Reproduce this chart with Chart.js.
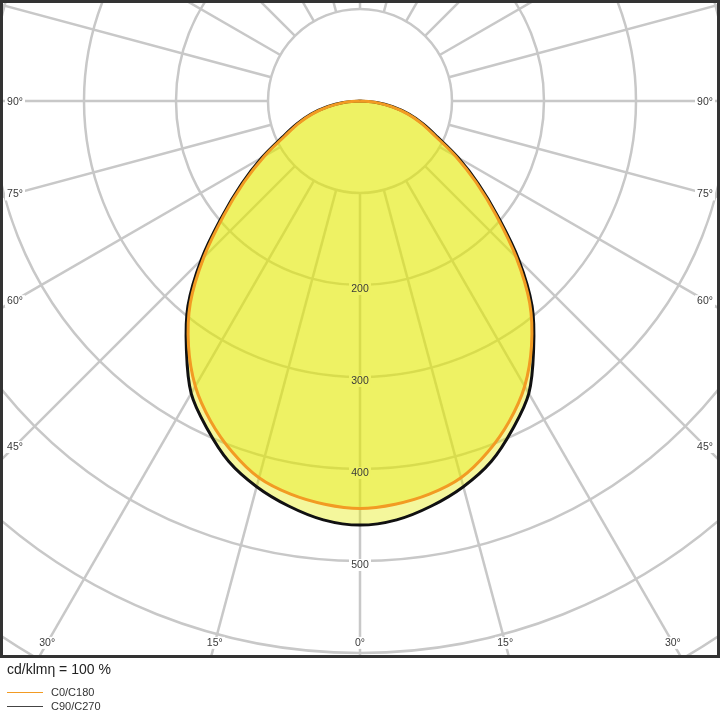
<!DOCTYPE html>
<html>
<head>
<meta charset="utf-8">
<script src="https://cdn.jsdelivr.net/npm/chart.js@4.4.1/dist/chart.umd.min.js"></script>
<style>
html,body{margin:0;padding:0;background:#fff;}
#wrap{position:relative;width:720px;height:720px;font-family:"Liberation Sans",Arial,sans-serif;color:#333;}
#c{position:absolute;left:0;top:0;}
.t{position:absolute;white-space:nowrap;}
.ln{position:absolute;height:0;}
</style>
</head>
<body>
<div id="wrap">
<canvas id="c" width="720" height="720"></canvas>
</div>
<script>
// ---- data ----
const gammaDeg = [0,5,10,15,20,25,30,35,40,45,50,55,60,65,70,75,80,85,90];
const intensityC0C180  = [443,440,434,424,406,384,358,325,287,240,193,154,120,90,71,53,34,17,0];
const intensityC90C270 = [461,457,447,434,417,393,367,329,291,244,196,157,123,93,73,55,36,18,0];
const seriesNames = ['C0/C180','C90/C270'];
const ringValues = [100,200,300,400,500,600,700,800];
const ringLabelValues = [200,300,400,500];
const radialStepDeg = 15;
const sideAngleLabels = [90,75,60,45];
const bottomAngleLabels = [-30,-15,0,15,30];
const unitText = 'cd/klm\u03B7 = 100 %';

// ---- styles ----
const colC0 = 'rgb(242,155,35)';
const colC90 = '#111111';
const gridCol = 'rgb(200,200,200)';
const textCol = '#3a3a3a';

function polarPoints(vals){
  const pts = [];
  for (let i = gammaDeg.length - 1; i >= 0; i--) {
    const g = gammaDeg[i] * Math.PI / 180;
    pts.push({x: -vals[i] * Math.sin(g), y: -vals[i] * Math.cos(g)});
  }
  for (let i = 1; i < gammaDeg.length; i++) {
    const g = gammaDeg[i] * Math.PI / 180;
    pts.push({x: vals[i] * Math.sin(g), y: -vals[i] * Math.cos(g)});
  }
  return pts;
}

function labelList(chart){
  const {x, y} = chart.scales;
  const cx = x.getPixelForValue(0);
  const list = [];
  ringLabelValues.forEach(v => {
    list.push({text: String(v), px: cx, py: y.getPixelForValue(-v) + 4, w: 22});
  });
  const sideX = 375;
  sideAngleLabels.forEach(a => {
    const yv = a === 90 ? 0 : -sideX / Math.tan(a * Math.PI / 180);
    [-1, 1].forEach(s => {
      list.push({text: a + '\u00B0', px: x.getPixelForValue(s * sideX), py: y.getPixelForValue(yv) + 1, w: 20});
    });
  });
  const botY = 589;
  bottomAngleLabels.forEach(a => {
    const xv = botY * Math.tan(a * Math.PI / 180);
    list.push({text: Math.abs(a) + '\u00B0', px: x.getPixelForValue(xv), py: y.getPixelForValue(-botY), w: a === 0 ? 12 : 20});
  });
  return list;
}

const polarGrid = {
  id: 'polarGrid',
  beforeDatasetsDraw(chart){
    const {ctx, chartArea: a, scales: {x, y}} = chart;
    const cx = x.getPixelForValue(0), cy = y.getPixelForValue(0);
    ctx.save();
    ctx.beginPath();
    ctx.rect(a.left, a.top, a.right - a.left, a.bottom - a.top);
    ctx.clip();
    ctx.strokeStyle = gridCol;
    ctx.lineWidth = 2.5;
    ringValues.forEach(v => {
      ctx.beginPath();
      ctx.arc(cx, cy, x.getPixelForValue(v) - cx, 0, Math.PI * 2);
      ctx.stroke();
    });
    for (let g = 0; g < 360; g += radialStepDeg) {
      const rad = g * Math.PI / 180;
      const r0 = ringValues[0], r1 = 1200;
      ctx.beginPath();
      ctx.moveTo(x.getPixelForValue(r0 * Math.sin(rad)), y.getPixelForValue(-r0 * Math.cos(rad)));
      ctx.lineTo(x.getPixelForValue(r1 * Math.sin(rad)), y.getPixelForValue(-r1 * Math.cos(rad)));
      ctx.stroke();
    }
    ctx.fillStyle = '#ffffff';
    labelList(chart).forEach(l => ctx.fillRect(l.px - l.w / 2, l.py - 6, l.w, 12));
    ctx.restore();
  },
  afterDatasetsDraw(chart){
    const {ctx} = chart;
    ctx.save();
    ctx.fillStyle = textCol;
    ctx.font = '10.5px "Liberation Sans", Arial, sans-serif';
    ctx.textAlign = 'center';
    ctx.textBaseline = 'middle';
    labelList(chart).forEach(l => ctx.fillText(l.text, l.px, l.py));
    ctx.restore();
  },
  afterDraw(chart){
    const {ctx, chartArea: a} = chart;
    ctx.save();
    ctx.strokeStyle = '#333333';
    ctx.lineWidth = 3;
    ctx.strokeRect(a.left - 0.5, a.top - 0.5, a.right - a.left + 1, a.bottom - a.top + 1);
    ctx.restore();
  }
};

const chart = new Chart(document.getElementById('c'), {
  type: 'line',
  data: {
    datasets: [
      {
        label: seriesNames[1],
        data: polarPoints(intensityC90C270),
        fill: 'shape',
        backgroundColor: 'rgba(227,234,0,0.39)',
        borderColor: colC90,
        borderWidth: 3,
        pointRadius: 0,
        tension: 0.35,
        order: 2
      },
      {
        label: seriesNames[0],
        data: polarPoints(intensityC0C180),
        fill: 'shape',
        backgroundColor: 'rgba(227,234,0,0.36)',
        borderColor: colC0,
        borderWidth: 3,
        pointRadius: 0,
        tension: 0.35,
        order: 1
      }
    ]
  },
  options: {
    responsive: false,
    animation: false,
    devicePixelRatio: 1,
    events: [],
    layout: {padding: {left: 2, top: 2, right: 2, bottom: 64}},
    scales: {
      x: {type: 'linear', display: false, min: -389.13, max: 389.13},
      y: {type: 'linear', display: false, min: -603.26, max: 107.6}
    },
    plugins: {legend: {display: false}, tooltip: {enabled: false}}
  },
  plugins: [polarGrid]
});

// ---- legend below the plot (HTML text) ----
const wrap = document.getElementById('wrap');
const u = document.createElement('div');
u.className = 't';
u.style.cssText = 'left:7px;top:660px;font-size:14px;line-height:18px;color:#222;';
u.textContent = unitText;
wrap.appendChild(u);
[[seriesNames[0], colC0, 692], [seriesNames[1], '#444', 706]].forEach(([name, col, yy]) => {
  const ln = document.createElement('div');
  ln.className = 'ln';
  ln.style.cssText = `left:7px;top:${yy}px;width:36px;border-top:1.5px solid ${col};`;
  wrap.appendChild(ln);
  const t = document.createElement('div');
  t.className = 't';
  t.style.cssText = `left:51px;top:${yy - 7}px;font-size:11px;line-height:14px;color:#333;`;
  t.textContent = name;
  wrap.appendChild(t);
});
</script>
</body>
</html>
